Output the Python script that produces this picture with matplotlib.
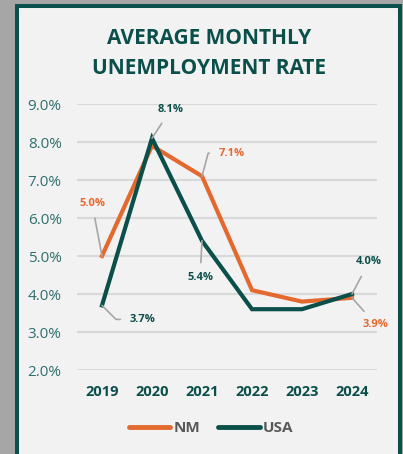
import matplotlib
matplotlib.use("Agg")
import matplotlib.pyplot as plt
from matplotlib.patches import Rectangle
from matplotlib.lines import Line2D

years = ['2019', '2020', '2021', '2022', '2023', '2024']
nm = [5.0, 7.9, 7.1, 4.1, 3.8, 3.9]
usa = [3.7, 8.1, 5.4, 3.6, 3.6, 4.0]
y_ticks = [2.0, 3.0, 4.0, 5.0, 6.0, 7.0, 8.0, 9.0]

# labelled points: (series, index, text, pixel offset, ha, connection)
labels = [
    ('nm', 0, '5.0%', (-10, 53), 'center', 'arc3'),
    ('usa', 1, '8.1%', (19, 29), 'center', 'arc3'),
    ('nm', 2, '7.1%', (17, 23), 'left', 'angle,angleA=0,angleB=75,rad=0'),
    ('usa', 2, '5.4%', (-2, -37), 'center', 'arc3'),
    ('usa', 0, '3.7%', (28, -14), 'left', 'angle,angleA=0,angleB=-45,rad=0'),
    ('usa', 5, '4.0%', (17, 32), 'center', 'arc3'),
    ('nm', 5, '3.9%', (24, -27), 'center', 'arc3'),
]

W, H = 403, 454
ORANGE = '#e4692e'
GREEN = '#0b4f4a'
TEAL = '#2f6f6c'
FONT = 'Open Sans'

plt.rcParams['font.family'] = FONT
fig = plt.figure(figsize=(W / 100, H / 100), dpi=100, facecolor='#a6a6a6')

# card
fig.patches.append(Rectangle((17 / W, -0.05), (399.5 - 17) / W, 1.05 - 6 / H,
                             transform=fig.transFigure, facecolor='#f2f2f2',
                             edgecolor=GREEN, linewidth=2.9, zorder=-5))

fig.text(209 / W, 1 - 38 / H, 'AVERAGE MONTHLY', ha='center', va='center',
         fontsize=15, fontweight='bold', color=GREEN)
fig.text(209 / W, 1 - 68 / H, 'UNEMPLOYMENT RATE', ha='center', va='center',
         fontsize=15, fontweight='bold', color=GREEN)

ax = fig.add_axes([77 / W, 1 - 370 / H, 300 / W, 266 / H], zorder=2)
ax.set_facecolor('none')
x = list(range(len(years)))
ax.plot(x, nm, color=ORANGE, lw=3.0, zorder=3, clip_on=False, solid_joinstyle='miter')
ax.plot(x, usa, color=GREEN, lw=3.0, zorder=4, clip_on=False, solid_joinstyle='miter')

ax.set_xlim(-0.5, 5.5)
ax.set_ylim(2.0, 9.0)
ax.set_yticks(y_ticks)
ax.set_yticklabels(['%.1f%%' % v for v in y_ticks], color=TEAL, fontsize=11)
ax.set_xticks(x)
ax.set_xticklabels(years, color=GREEN, fontsize=10.5, fontweight='bold')
ax.tick_params(length=0)
ax.tick_params(axis='y', pad=11)
ax.tick_params(axis='x', pad=11)
ax.grid(axis='y', color='#d9d9d9', lw=1.5)
ax.set_axisbelow(True)
for s in ax.spines.values():
    s.set_visible(False)

for series, i, txt, off, ha, conn in labels:
    vals = nm if series == 'nm' else usa
    col = ORANGE if series == 'nm' else GREEN
    ax.annotate(txt, xy=(i, vals[i]), xytext=off, textcoords='offset pixels',
                ha=ha, va='center', fontsize=8, fontweight='bold', color=col,
                arrowprops=dict(arrowstyle='-', color='#a6a6a6', lw=1.2,
                                shrinkA=5, shrinkB=0, connectionstyle=conn),
                zorder=5)

handles = [Line2D([], [], color=ORANGE, lw=3.5, solid_capstyle='round'),
           Line2D([], [], color=GREEN, lw=3.5, solid_capstyle='round')]
leg = fig.legend(handles, ['NM', 'USA'], loc='center', bbox_to_anchor=(211 / W, 1 - 428 / H),
                 ncol=2, frameon=False, handlelength=2.7, handletextpad=0.2,
                 columnspacing=1.2, prop={'family': FONT, 'weight': 'bold', 'size': 11})
for t in leg.get_texts():
    t.set_color('#595959')

fig.savefig('out.png', dpi=100, facecolor=fig.get_facecolor())
